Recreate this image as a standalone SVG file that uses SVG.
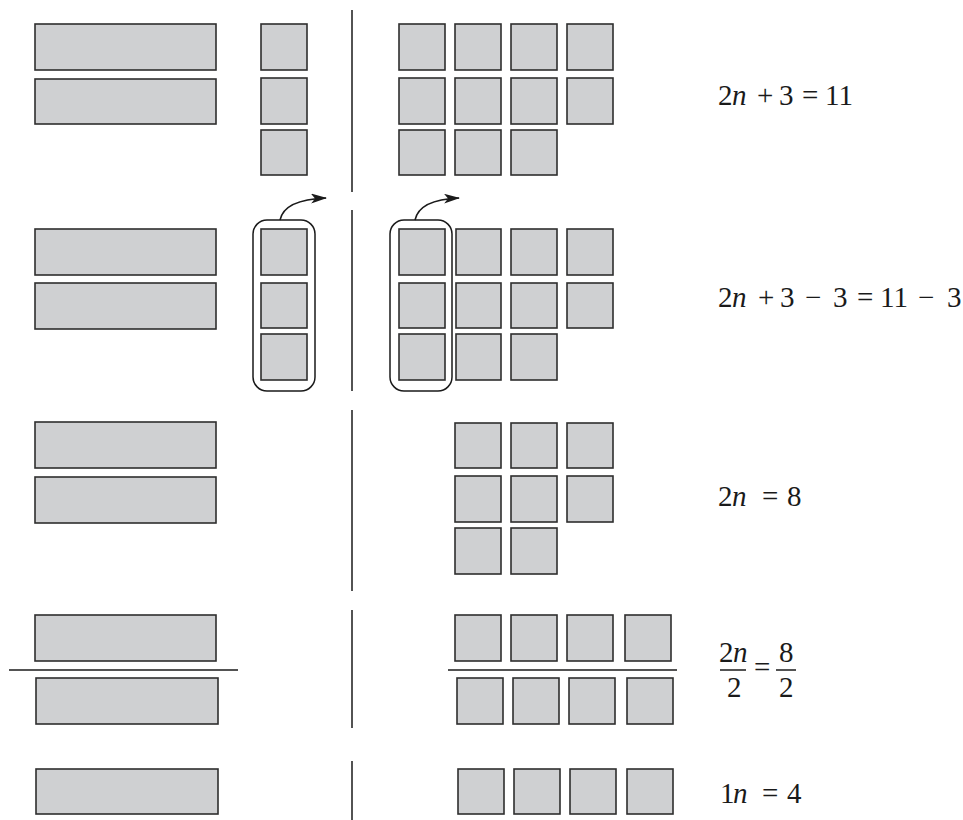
<svg xmlns="http://www.w3.org/2000/svg" width="963" height="820" viewBox="0 0 963 820">
<style>
.b{fill:#cfd0d2;stroke:#2e2e2e;stroke-width:1.6}
.s{fill:#cfd0d2;stroke:#2e2e2e;stroke-width:1.6}
.ln{stroke:#1a1a1a;stroke-width:1.5;fill:none}
.grp{fill:none;stroke:#1a1a1a;stroke-width:1.5}
.eq{font-family:"Liberation Serif","DejaVu Serif",serif;font-size:29px;fill:#1a1a1a}
.it{font-style:italic}
</style>
<defs>
<marker id="ah" viewBox="0 0 16 10" refX="15" refY="5" markerWidth="16" markerHeight="10" markerUnits="userSpaceOnUse" orient="auto">
<path d="M0,0 L16,5 L0,10 L4,5 Z" fill="#1a1a1a"/>
</marker>
</defs>

<g id="dividers">
<line class="ln" x1="352" y1="10" x2="352" y2="192"/>
<line class="ln" x1="352" y1="210" x2="352" y2="391"/>
<line class="ln" x1="352" y1="410" x2="352" y2="591"/>
<line class="ln" x1="352" y1="610" x2="352" y2="728"/>
<line class="ln" x1="352" y1="761" x2="352" y2="820"/>
<line class="ln" x1="9" y1="670" x2="238" y2="670"/>
<line class="ln" x1="448" y1="670" x2="677" y2="670"/>
</g>

<g id="row1">
<rect class="b" x="35" y="24" width="181" height="46"/>
<rect class="b" x="35" y="79" width="181" height="45"/>
<rect class="s" x="261" y="24" width="46" height="46"/>
<rect class="s" x="261" y="78" width="46" height="46"/>
<rect class="s" x="261" y="130" width="46" height="45"/>
<rect class="s" x="399" y="24" width="46" height="46"/>
<rect class="s" x="455" y="24" width="46" height="46"/>
<rect class="s" x="511" y="24" width="46" height="46"/>
<rect class="s" x="567" y="24" width="46" height="46"/>
<rect class="s" x="399" y="78" width="46" height="46"/>
<rect class="s" x="455" y="78" width="46" height="46"/>
<rect class="s" x="511" y="78" width="46" height="46"/>
<rect class="s" x="567" y="78" width="46" height="46"/>
<rect class="s" x="399" y="130" width="46" height="45"/>
<rect class="s" x="455" y="130" width="46" height="45"/>
<rect class="s" x="511" y="130" width="46" height="45"/>
<text class="eq" y="105"><tspan x="718">2</tspan><tspan x="732" class="it">n</tspan><tspan x="757">+</tspan><tspan x="779">3</tspan><tspan x="802">=</tspan><tspan x="825">11</tspan></text>
</g>

<g id="row2">
<rect class="b" x="35" y="229" width="181" height="46"/>
<rect class="b" x="35" y="283" width="181" height="46"/>
<rect class="s" x="261" y="229" width="46" height="46"/>
<rect class="s" x="261" y="283" width="46" height="45"/>
<rect class="s" x="261" y="334" width="46" height="46"/>
<rect class="grp" x="253" y="220" width="62" height="171" rx="14"/>
<rect class="s" x="399" y="229" width="46" height="46"/>
<rect class="s" x="456" y="229" width="45" height="46"/>
<rect class="s" x="511" y="229" width="46" height="46"/>
<rect class="s" x="567" y="229" width="46" height="46"/>
<rect class="s" x="399" y="283" width="46" height="45"/>
<rect class="s" x="456" y="283" width="45" height="45"/>
<rect class="s" x="511" y="283" width="46" height="45"/>
<rect class="s" x="567" y="283" width="46" height="45"/>
<rect class="s" x="399" y="334" width="46" height="46"/>
<rect class="s" x="456" y="334" width="45" height="46"/>
<rect class="s" x="511" y="334" width="46" height="46"/>
<rect class="grp" x="390" y="220" width="62" height="171" rx="14"/>
<text class="eq" y="307"><tspan x="718">2</tspan><tspan x="732" class="it">n</tspan><tspan x="758">+</tspan><tspan x="780">3</tspan><tspan x="805">−</tspan><tspan x="833">3</tspan><tspan x="857">=</tspan><tspan x="880">11</tspan><tspan x="918">−</tspan><tspan x="947">3</tspan></text>
</g>

<g id="connectors">
<path class="ln" d="M280,220 C283,206 298,199 326,198" marker-end="url(#ah)"/>
<path class="ln" d="M415,220 C418,206 433,199 459,198" marker-end="url(#ah)"/>
</g>

<g id="row3">
<rect class="b" x="35" y="422" width="181" height="46"/>
<rect class="b" x="35" y="477" width="181" height="46"/>
<rect class="s" x="455" y="423" width="46" height="45"/>
<rect class="s" x="511" y="423" width="46" height="45"/>
<rect class="s" x="567" y="423" width="46" height="45"/>
<rect class="s" x="455" y="476" width="46" height="46"/>
<rect class="s" x="511" y="476" width="46" height="46"/>
<rect class="s" x="567" y="476" width="46" height="46"/>
<rect class="s" x="455" y="528" width="46" height="46"/>
<rect class="s" x="511" y="528" width="46" height="46"/>
<text class="eq" y="506"><tspan x="718">2</tspan><tspan x="732" class="it">n</tspan><tspan x="762">=</tspan><tspan x="787">8</tspan></text>
</g>

<g id="row4">
<rect class="b" x="35" y="615" width="181" height="46"/>
<rect class="b" x="36" y="678" width="182" height="46"/>
<rect class="s" x="455" y="615" width="46" height="46"/>
<rect class="s" x="511" y="615" width="46" height="46"/>
<rect class="s" x="567" y="615" width="46" height="46"/>
<rect class="s" x="625" y="615" width="46" height="46"/>
<rect class="s" x="457" y="678" width="46" height="46"/>
<rect class="s" x="513" y="678" width="46" height="46"/>
<rect class="s" x="569" y="678" width="46" height="46"/>
<rect class="s" x="627" y="678" width="46" height="46"/>
<text class="eq" y="662"><tspan x="719">2</tspan><tspan x="733" class="it">n</tspan></text>
<line class="ln" x1="720" y1="670" x2="746" y2="670"/>
<text class="eq" x="727" y="697">2</text>
<text class="eq" x="754" y="677">=</text>
<text class="eq" x="779" y="662">8</text>
<line class="ln" x1="776" y1="670" x2="796" y2="670"/>
<text class="eq" x="779" y="697">2</text>
</g>

<g id="row5">
<rect class="b" x="36" y="769" width="182" height="45"/>
<rect class="s" x="458" y="769" width="46" height="45"/>
<rect class="s" x="514" y="769" width="46" height="45"/>
<rect class="s" x="570" y="769" width="46" height="45"/>
<rect class="s" x="627" y="769" width="46" height="45"/>
<text class="eq" y="803"><tspan x="720">1</tspan><tspan x="733" class="it">n</tspan><tspan x="762">=</tspan><tspan x="787">4</tspan></text>
</g>
</svg>
